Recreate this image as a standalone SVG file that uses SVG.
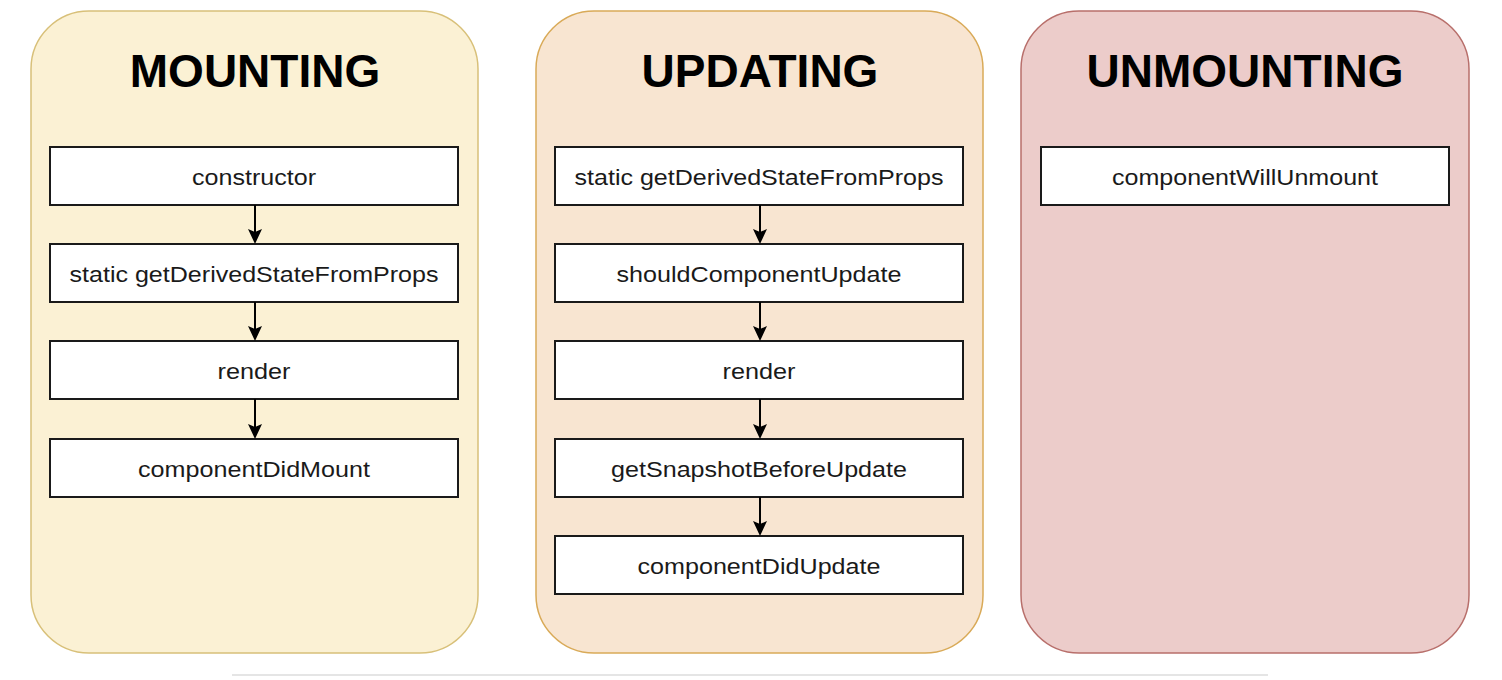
<svg xmlns="http://www.w3.org/2000/svg" width="1502" height="680" viewBox="0 0 1502 680">
<style>
.title{font-family:"Liberation Sans",Arial,Helvetica,sans-serif;font-weight:bold;font-size:46px;fill:#000;text-anchor:middle}
.box{fill:#fff;stroke:#1a1a1a;stroke-width:2}
.lbl{font-family:"Liberation Sans",Arial,Helvetica,sans-serif;font-size:22.5px;fill:#1a1a1a;text-anchor:middle;dominant-baseline:central}
.edge{stroke:#000;stroke-width:2;fill:none}
.head{fill:#000;stroke:none}
</style>
<rect width="1502" height="680" fill="#fff"/>
<g id="mounting">
<rect x="31" y="11" width="447" height="642" rx="58" ry="58" fill="#fbf1d4" stroke="#d8c079" stroke-width="1.5"/>
<text class="title" x="255" y="87">MOUNTING</text>
</g>
<g id="updating">
<rect x="536" y="11" width="447" height="642" rx="58" ry="58" fill="#f8e5d1" stroke="#d9aa58" stroke-width="1.5"/>
<text class="title" x="760" y="87">UPDATING</text>
</g>
<g id="unmounting">
<rect x="1021" y="11" width="448" height="642" rx="58" ry="58" fill="#ecccca" stroke="#b86f6b" stroke-width="1.5"/>
<text class="title" x="1245" y="87">UNMOUNTING</text>
</g>
<g id="m-constructor"><rect class="box" x="50" y="147" width="408" height="58"/><text class="lbl" x="254" y="177" textLength="124" lengthAdjust="spacingAndGlyphs">constructor</text></g>
<g id="m-gdsfp"><rect class="box" x="50" y="244" width="408" height="58"/><text class="lbl" x="254" y="274" textLength="369" lengthAdjust="spacingAndGlyphs">static getDerivedStateFromProps</text></g>
<g id="m-render"><rect class="box" x="50" y="341" width="408" height="58"/><text class="lbl" x="254" y="371" textLength="73" lengthAdjust="spacingAndGlyphs">render</text></g>
<g id="m-cdm"><rect class="box" x="50" y="439" width="408" height="58"/><text class="lbl" x="254" y="469" textLength="232" lengthAdjust="spacingAndGlyphs">componentDidMount</text></g>
<g id="u-gdsfp"><rect class="box" x="555" y="147" width="408" height="58"/><text class="lbl" x="759" y="177" textLength="369" lengthAdjust="spacingAndGlyphs">static getDerivedStateFromProps</text></g>
<g id="u-scu"><rect class="box" x="555" y="244" width="408" height="58"/><text class="lbl" x="759" y="274" textLength="285" lengthAdjust="spacingAndGlyphs">shouldComponentUpdate</text></g>
<g id="u-render"><rect class="box" x="555" y="341" width="408" height="58"/><text class="lbl" x="759" y="371" textLength="73" lengthAdjust="spacingAndGlyphs">render</text></g>
<g id="u-gsbu"><rect class="box" x="555" y="439" width="408" height="58"/><text class="lbl" x="759" y="469" textLength="296" lengthAdjust="spacingAndGlyphs">getSnapshotBeforeUpdate</text></g>
<g id="u-cdu"><rect class="box" x="555" y="536" width="408" height="58"/><text class="lbl" x="759" y="566" textLength="243" lengthAdjust="spacingAndGlyphs">componentDidUpdate</text></g>
<g id="un-cwu"><rect class="box" x="1041" y="147" width="408" height="58"/><text class="lbl" x="1245" y="177" textLength="266" lengthAdjust="spacingAndGlyphs">componentWillUnmount</text></g>
<g id="connectors">
<path class="edge" d="M255 205V233M255 302V330M255 399V428"/>
<path class="head" d="M255 244L248 229L255 232L262 229Z M255 341L248 326L255 329L262 326Z M255 439L248 424L255 427L262 424Z"/>
<path class="edge" d="M760 205V233M760 302V330M760 399V428M760 497V525"/>
<path class="head" d="M760 244L753 229L760 232L767 229Z M760 341L753 326L760 329L767 326Z M760 439L753 424L760 427L767 424Z M760 536L753 521L760 524L767 521Z"/>
</g>
<rect x="232" y="674" width="1036" height="2" fill="#e5e5e5"/>
</svg>
